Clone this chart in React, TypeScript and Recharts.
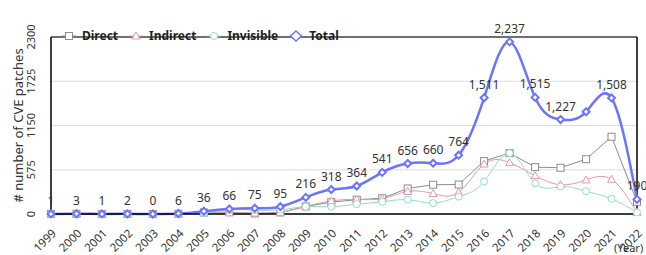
import { LineChart, Line, XAxis, YAxis, CartesianGrid, LabelList, ReferenceLine, Legend } from "recharts"

const years = ["1999", "2000", "2001", "2002", "2003", "2004", "2005", "2006", "2007", "2008", "2009", "2010", "2011", "2012", "2013", "2014", "2015", "2016", "2017", "2018", "2019", "2020", "2021", "2022"]
const direct = [1, 2, 1, 1, 0, 3, 20, 24, 8, 20, 98, 154, 186, 205, 332, 380, 383, 688, 791, 609, 601, 712, 1004, 158]
const indirect = [0, 1, 0, 1, 0, 2, 10, 15, 12, 20, 98, 170, 190, 200, 293, 265, 281, 649, 668, 498, 380, 443, 451, 20]
const invisible = [0, 0, 0, 0, 0, 1, 12, 55, 50, 55, 95, 95, 127, 158, 186, 142, 225, 423, 791, 400, 356, 297, 198, 20]
const total = [1, 3, 1, 2, 0, 6, 36, 66, 75, 95, 216, 318, 364, 541, 656, 660, 764, 1511, 2237, 1515, 1227, 1328, 1508, 190]
// the 2020 total label is hidden in the original (overlap)
const hiddenLabels = ["2020"]
const yTicks = [0, 575, 1150, 1725, 2300]

const data = years.map((year, i) => ({
    year,
    direct: direct[i],
    indirect: indirect[i],
    invisible: invisible[i],
    total: total[i],
}))

const FONT = "'Noto Sans', sans-serif"
const GRAY = "#8c8c8c"
const PINK = "#e49aa6"
const TEAL = "#94dccb"
const BLUE = "#6b73ff"

const squareDot = (props: any) => {
    const { cx, cy, key } = props
    return <rect key={key} x={cx - 3.5} y={cy - 3.5} width={7} height={7} fill="#fff" stroke={GRAY} strokeWidth={1} />
}
const triangleDot = (props: any) => {
    const { cx, cy, key } = props
    return <path key={key} d={`M${cx},${cy - 4}L${cx + 4},${cy + 3}L${cx - 4},${cy + 3}Z`} fill="#fff" stroke={PINK} strokeWidth={1} />
}
const circleDot = (props: any) => {
    const { cx, cy, key } = props
    return <circle key={key} cx={cx} cy={cy} r={3.5} fill="#fff" stroke={TEAL} strokeWidth={1} />
}
const diamondDot = (props: any) => {
    const { cx, cy, key } = props
    return <path key={key} d={`M${cx},${cy - 3.5}L${cx + 3.5},${cy}L${cx},${cy + 3.5}L${cx - 3.5},${cy}Z`} fill="#fff" stroke={BLUE} strokeWidth={2} />
}

const XTick = (props: any) => {
    const { x, y, payload } = props
    const ax = x + 6
    const ay = y + 12
    return (
        <text x={ax} y={ay} textAnchor="end" fontSize={11.5} fill="#333" fontFamily={FONT} transform={`rotate(-45 ${ax} ${ay})`}>
            {payload.value}
        </text>
    )
}

const YTick = (props: any) => {
    const { x, y, payload } = props
    return (
        <text x={x - 8} y={y} textAnchor="middle" fontSize={11} fill="#333" fontFamily={FONT} transform={`rotate(-90 ${x - 8} ${y})`}>
            {payload.value}
        </text>
    )
}

const TotalLabel = (props: any) => {
    const { x, y, value, index } = props
    if (hiddenLabels.includes(years[index])) return null
    return (
        <text x={x} y={y - 9} textAnchor="middle" fontSize={12} fill="#333" fontFamily={FONT}>
            {Number(value).toLocaleString("en-US")}
        </text>
    )
}

const legendItems = [
    { name: "Direct", color: GRAY, shape: "square" },
    { name: "Indirect", color: PINK, shape: "triangle" },
    { name: "Invisible", color: TEAL, shape: "circle" },
    { name: "Total", color: BLUE, shape: "diamond" },
]

const LegendContent = () => (
    <div style={{ display: "flex", alignItems: "center", fontFamily: FONT, fontSize: 12, fontWeight: 700, color: "#222" }}>
        {legendItems.map((it) => (
            <div key={it.name} style={{ display: "flex", alignItems: "center", marginRight: 11 }}>
                <svg width={14} height={12} style={{ marginRight: 6 }}>
                    {it.shape !== "diamond" && <line x1={0} y1={6} x2={14} y2={6} stroke={it.color} strokeWidth={1} />}
                    {it.shape === "square" && <rect x={3.5} y={2.5} width={7} height={7} fill="#fff" stroke={it.color} />}
                    {it.shape === "triangle" && <path d="M7,2L11,9L3,9Z" fill="#fff" stroke={it.color} />}
                    {it.shape === "circle" && <circle cx={7} cy={6} r={3.5} fill="#fff" stroke={it.color} />}
                    {it.shape === "diamond" && <path d="M7,1L12.5,6L7,11L1.5,6Z" fill="#fff" stroke={it.color} strokeWidth={1.5} />}
                </svg>
                <span>{it.name}</span>
            </div>
        ))}
    </div>
)

export default function App() {
    return (
        <div style={{ position: "absolute", left: 0, top: 0, width: 646, height: 255, background: "#fff", overflow: "hidden" }}>
            <LineChart width={646} height={255} data={data} margin={{ top: 20, right: 9, left: 0, bottom: 0 }}>
                <CartesianGrid horizontal vertical={false} stroke="#dddddd" />
                <XAxis
                    dataKey="year"
                    interval={0}
                    height={41}
                    tick={<XTick />}
                    tickLine={false}
                    axisLine={{ stroke: "#000", strokeWidth: 1.5 }}
                />
                <YAxis
                    domain={[0, 2300]}
                    ticks={yTicks}
                    width={51}
                    tick={<YTick />}
                    tickLine={false}
                    axisLine={{ stroke: "#000", strokeWidth: 1.5 }}
                    label={{ value: "# number of CVE patches", angle: -90, position: "insideLeft", dx: 13, dy: 0, style: { textAnchor: "middle", fontSize: 13, fill: "#333", fontFamily: FONT } }}
                />
                <ReferenceLine y={2300} stroke="#444" strokeWidth={1.5} />
                <ReferenceLine x="2022" stroke="#000" strokeWidth={1.5} />
                <Legend verticalAlign="top" align="left" content={<LegendContent />} wrapperStyle={{ top: 27, left: 62, width: "auto" }} />
                <Line type="linear" dataKey="direct" stroke={GRAY} strokeWidth={1} dot={squareDot} isAnimationActive={false} />
                <Line type="natural" dataKey="indirect" stroke={PINK} strokeWidth={1} dot={triangleDot} isAnimationActive={false} />
                <Line type="natural" dataKey="invisible" stroke={TEAL} strokeWidth={1} dot={circleDot} isAnimationActive={false} />
                <Line type="natural" dataKey="total" stroke={BLUE} strokeWidth={2.5} dot={diamondDot} isAnimationActive={false}>
                    <LabelList dataKey="total" content={<TotalLabel />} />
                </Line>
            </LineChart>
            <span style={{ position: "absolute", left: 614, top: 241, fontSize: 11, lineHeight: "13px", whiteSpace: "nowrap", color: "#333", fontFamily: FONT }}>(Year)</span>
        </div>
    )
}
